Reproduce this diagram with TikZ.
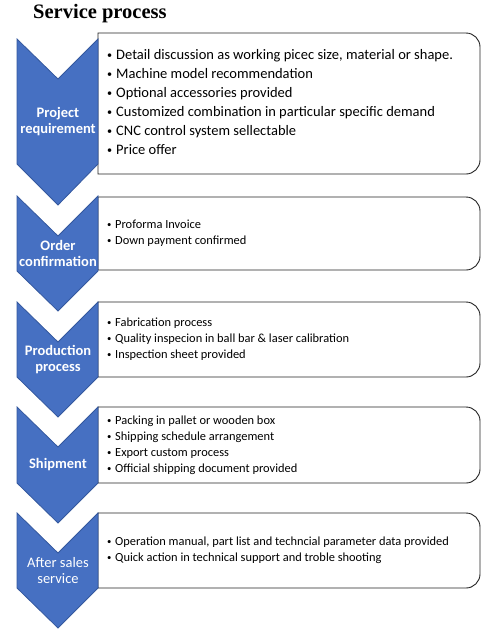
\documentclass[tikz,border=0pt]{standalone}
\usepackage{fontspec}
\usepackage{graphicx}
\setmainfont{Carlito}
\newfontfamily\titlefont{Liberation Serif}
\definecolor{chevblue}{RGB}{70,112,194}
\definecolor{chevedge}{RGB}{52,88,158}
\definecolor{boxedge}{RGB}{35,35,35}
\newcommand{\bul}{\raisebox{0.1em}{\scalebox{0.7}{\textbullet}}}
\newcommand{\itm}{\makebox[9pt][l]{\bul}}
\newcommand{\itms}{\makebox[8pt][l]{\bul}}
\tikzset{
  chevron/.style={fill=chevblue, draw=chevedge, line width=0.8pt, line join=miter},
  infobox/.style={fill=white, draw=boxedge, line width=0.9pt},
  steplabel/.style={text=white, font=\fontsize{14.5}{16}\selectfont\bfseries, align=center, inner sep=0pt},
  bigtext/.style={font=\fontsize{14.5}{19}\selectfont, align=left, anchor=west, inner sep=0pt},
  smalltext/.style={font=\fontsize{12.4}{16}\selectfont, align=left, anchor=west, inner sep=0pt},
}
\begin{document}
\begin{tikzpicture}[x=1pt,y=-1pt]
    \useasboundingbox (0,0) rectangle (500,635);%
    \node[anchor=base west, inner sep=0pt, font=\titlefont\fontsize{20.5}{24}\selectfont\bfseries] (T) at (33,18.5) {Service process};%

    % boxes
    \draw[infobox] (98,33) -- (466,33) arc(-90:0:14) -- (480,160) arc(0:90:14) -- (98,174) -- cycle;%
    \draw[infobox] (98,197) -- (466,197) arc(-90:0:14) -- (480,256) arc(0:90:14) -- (98,270) -- cycle;%
    \draw[infobox] (98,302) -- (466,302) arc(-90:0:14) -- (480,363) arc(0:90:14) -- (98,377) -- cycle;%
    \draw[infobox] (98,407) -- (466,407) arc(-90:0:14) -- (480,469) arc(0:90:14) -- (98,483) -- cycle;%
    \draw[infobox] (98,513) -- (466,513) arc(-90:0:14) -- (480,574) arc(0:90:14) -- (98,588) -- cycle;%

    % chevrons
    \draw[chevron] (17,39) -- (58,79) -- (98,39) -- (98,164) -- (58,205) -- (17,164) -- cycle;%
    \draw[chevron] (17,196) -- (58,236) -- (98,196) -- (98,271) -- (58,311) -- (17,271) -- cycle;%
    \draw[chevron] (17,302) -- (58,342) -- (98,302) -- (98,377) -- (58,417) -- (17,377) -- cycle;%
    \draw[chevron] (17,407) -- (58,447) -- (98,407) -- (98,483) -- (58,523) -- (17,483) -- cycle;%
    \draw[chevron] (17,513) -- (58,553) -- (98,513) -- (98,588) -- (58,628) -- (17,588) -- cycle;%

    \node[steplabel] (L1) at (58,122) {Project\\requirement};%
    \node[steplabel] (L2) at (58,253) {Order\\confirmation};%
    \node[steplabel] (L3) at (58,359.5) {Production\\process};%
    \node[steplabel] (L4) at (58,465) {Shipment};%
    \node[steplabel, font=\fontsize{14.5}{16}\selectfont\mdseries] (L5) at (58,570.5) {After sales\\service};%

    \node[bigtext] (B1) at (107,102.5) {\itm Detail discussion as working picec size, material or shape.\\
      \itm Machine model recommendation\\
      \itm Optional accessories provided\\
      \itm Customized combination in particular specific demand\\
      \itm CNC control system sellectable\\
      \itm Price offer};%
    \node[smalltext] (B2) at (107,233.5) {\itms Proforma Invoice\\
      \itms Down payment confirmed};%
    \node[smalltext] (B3) at (107,339.5) {\itms Fabrication process\\
      \itms Quality inspecion in ball bar \& laser calibration\\
      \itms Inspection sheet provided};%
    \node[smalltext] (B4) at (107,445) {\itms Packing in pallet or wooden box\\
      \itms Shipping schedule arrangement\\
      \itms Export custom process\\
      \itms Official shipping document provided};%
    \node[smalltext] (B5) at (107,550.5) {\itms Operation manual, part list and techncial parameter data provided\\
      \itms Quick action in technical support and troble shooting};%
  \end{tikzpicture}
\end{document}
